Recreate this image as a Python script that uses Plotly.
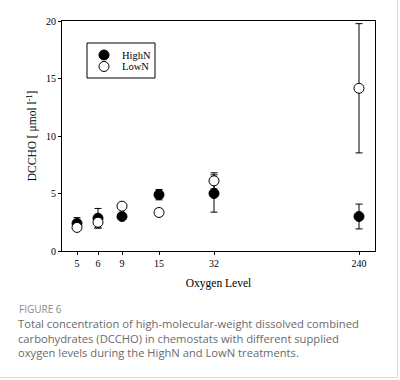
import plotly.graph_objects as go

# ---- data ----
oxygen_levels = ["5", "6", "9", "15", "32", "240"]
highN_mean = [2.4, 2.85, 3.0, 4.9, 5.0, 3.0]
highN_err = [0.5, 0.85, 0.15, 0.45, 1.62, 1.08]
lowN_mean = [2.05, 2.5, 3.9, 3.35, 6.1, 14.15]
lowN_err = [0.25, 0.5, 0.15, 0.3, 0.7, 5.62]
y_ticks = [0, 5, 10, 15, 20]

# ---- layout helpers ----
W, H = 400, 380
L, R, T, B = 62, 25, 21, 129
PW, PH = W - L - R, H - T - B

# uneven slot spacing of the categorical oxygen axis (as in the original figure)
slot = {"5": 0, "6": 21, "9": 45, "15": 82, "32": 137, "240": 282}
xpos = [slot[k] for k in oxygen_levels]


def px2x(px):
    return (px - L) / PW


def py2y(py):
    return (H - B - py) / PH


SERIF = "Liberation Serif, Times New Roman, serif"
SANS = "Open Sans, Noto Sans, sans-serif"

fig = go.Figure()
fig.add_trace(go.Scatter(
    x=xpos, y=highN_mean, mode="markers", name="HighN",
    marker=dict(size=10, color="black", line=dict(color="black", width=1)),
    error_y=dict(type="data", array=highN_err, color="black", thickness=1, width=3.5),
    showlegend=False,
))
fig.add_trace(go.Scatter(
    x=xpos, y=lowN_mean, mode="markers", name="LowN",
    marker=dict(size=10, color="white", line=dict(color="black", width=1)),
    error_y=dict(type="data", array=lowN_err, color="black", thickness=1, width=3.5),
    showlegend=False,
))

shapes = []
annotations = []

# legend box (drawn manually for the compact original look)
shapes.append(dict(type="rect", xref="paper", yref="paper",
                   x0=px2x(87), x1=px2x(155), y0=py2y(78), y1=py2y(43),
                   line=dict(color="black", width=1), fillcolor="white"))
for name, fill, py in [("HighN", "black", 55), ("LowN", "white", 66.5)]:
    shapes.append(dict(type="circle", xref="paper", yref="paper",
                       xsizemode="pixel", ysizemode="pixel",
                       xanchor=px2x(104), yanchor=py2y(py),
                       x0=-5, x1=5, y0=-5, y1=5,
                       fillcolor=fill, line=dict(color="black", width=1)))
    annotations.append(dict(text=name, xref="paper", yref="paper",
                            x=px2x(120), y=py2y(py), xanchor="left", yanchor="middle",
                            showarrow=False, font=dict(family=SERIF, size=10.5, color="black")))

# page frame lines (right and bottom)
shapes.append(dict(type="line", xref="paper", yref="paper",
                   x0=px2x(397.5), x1=px2x(397.5), y0=py2y(0), y1=py2y(377.5),
                   line=dict(color="#dcdcdc", width=1)))
shapes.append(dict(type="line", xref="paper", yref="paper",
                   x0=px2x(0), x1=px2x(397.5), y0=py2y(377.5), y1=py2y(377.5),
                   line=dict(color="#dcdcdc", width=1)))

# caption
annotations.append(dict(text="FIGURE 6", xref="paper", yref="paper",
                        x=px2x(17), y=py2y(309), xanchor="left", yanchor="middle",
                        showarrow=False, font=dict(family=SANS, size=10, color="#8a8a8a")))
caption_lines = [
    "Total concentration of high-molecular-weight dissolved combined",
    "carbohydrates (DCCHO) in chemostats with different supplied",
    "oxygen levels during the HighN and LowN treatments.",
]
for i, line in enumerate(caption_lines):
    annotations.append(dict(text=line, xref="paper", yref="paper",
                            x=px2x(16), y=py2y(323.5 + 14.7 * i), xanchor="left", yanchor="middle",
                            showarrow=False, font=dict(family=SANS, size=11.2, color="#6a6a6a")))

fig.update_layout(
    width=W, height=H,
    margin=dict(l=L, r=R, t=T, b=B, pad=0),
    paper_bgcolor="white", plot_bgcolor="white",
    shapes=shapes, annotations=annotations,
    font=dict(family=SERIF, color="black"),
    xaxis=dict(
        range=[-15, 298], tickmode="array", tickvals=xpos, ticktext=oxygen_levels,
        ticks="outside", ticklen=3, tickwidth=1, tickcolor="black",
        showline=True, linecolor="black", linewidth=1, mirror=True,
        showgrid=False, zeroline=False,
        tickfont=dict(family=SERIF, size=10),
        title=dict(text="Oxygen Level", font=dict(family=SERIF, size=11.5), standoff=10),
    ),
    yaxis=dict(
        range=[0, 20], tickmode="array", tickvals=y_ticks,
        ticks="outside", ticklen=3, tickwidth=1, tickcolor="black",
        showline=True, linecolor="black", linewidth=1, mirror=True,
        showgrid=False, zeroline=False,
        tickfont=dict(family=SERIF, size=10),
        title=dict(text="DCCHO [ μmol l<sup>-1</sup>]", font=dict(family=SERIF, size=11.5), standoff=6),
    ),
)

fig.write_html(
    "out.html",
    config={"displayModeBar": False},
    post_script="document.body.style.margin='0';document.body.style.overflow='hidden';",
)
